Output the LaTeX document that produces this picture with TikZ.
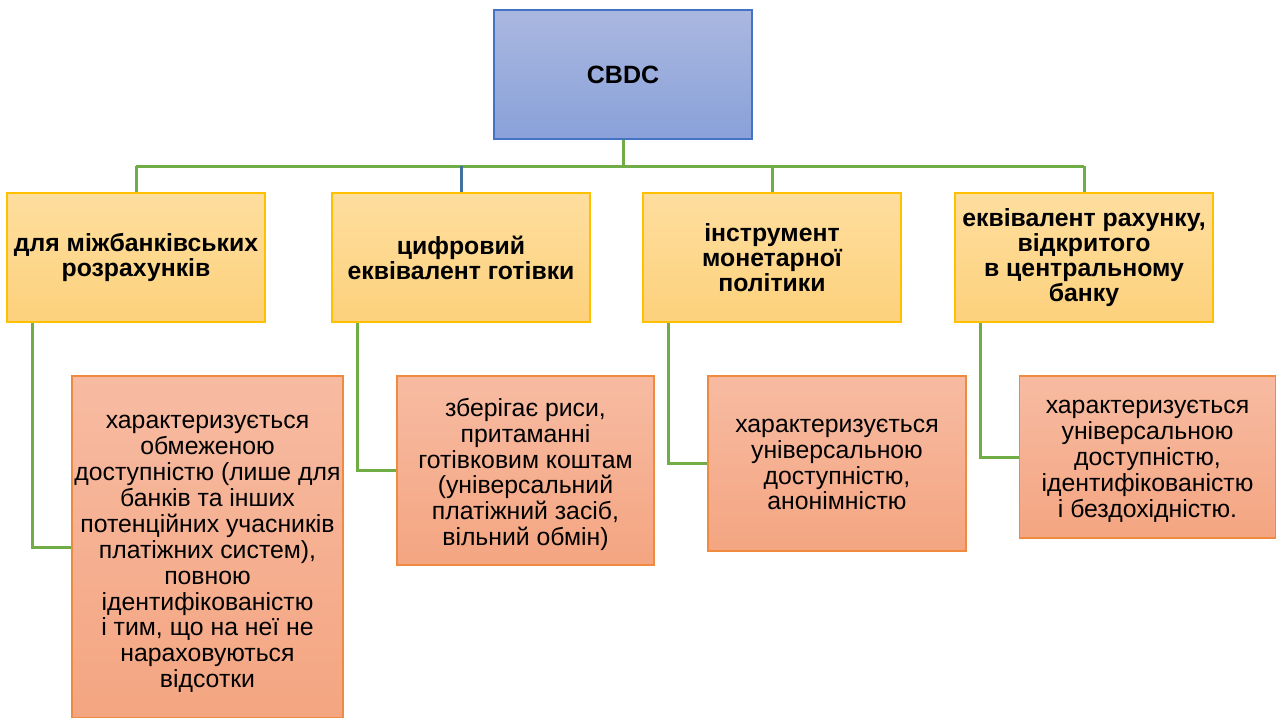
\documentclass[tikz,border=0pt]{standalone}
\usepackage{fontspec}
\setmainfont{Liberation Sans}
\definecolor{topblue}{HTML}{AAB8E0}
\definecolor{botblue}{HTML}{89A1D9}
\definecolor{bordblue}{HTML}{4472C4}
\definecolor{topyel}{HTML}{FEDE9E}
\definecolor{botyel}{HTML}{FDD17C}
\definecolor{bordyel}{HTML}{FFC000}
\definecolor{toporg}{HTML}{F7BBA2}
\definecolor{botorg}{HTML}{F4A581}
\definecolor{bordorg}{HTML}{F08A3E}
\definecolor{lgreen}{HTML}{70AD47}
\definecolor{lblue}{HTML}{41719C}
\begin{document}
\begin{tikzpicture}[x=1pt,y=-1pt,
  rootbox/.style={draw=bordblue,line width=1.5pt,top color=topblue,bottom color=botblue,
    minimum width=258pt,minimum height=129pt,inner sep=0pt,align=center,
    font=\fontsize{25}{25}\selectfont\bfseries},
  catbox/.style={draw=bordyel,line width=1.5pt,top color=topyel,bottom color=botyel,
    minimum width=258pt,minimum height=129pt,inner sep=0pt,align=center,
    font=\fontsize{24.8}{24.8}\selectfont\bfseries},
  descbox/.style={draw=bordorg,line width=1.5pt,top color=toporg,bottom color=botorg,
    inner sep=0pt},
  desctext/.style={inner sep=0pt,align=center,font=\fontsize{24.8}{25.9}\selectfont},
  link/.style={draw=lgreen,line width=3pt},
  ]
\useasboundingbox (0,0) rectangle (1276,717);
\node[rootbox] (cbdc) at (623,74.5) {CBDC};
\node[catbox] (a1) at (136,257.5) {для міжбанківських\\розрахунків};
\node[catbox] (a2) at (461,257.5) {цифровий\\еквівалент готівки};
\node[catbox] (a3) at (772,257.5) {інструмент\\монетарної\\політики};
\node[catbox] (a4) at (1084,257.5) {еквівалент рахунку,\\відкритого\\в центральному\\банку};
\node[descbox,minimum width=271pt,minimum height=342pt,
  label={[desctext,yshift=-7pt]center:характеризується\\обмеженою\\доступністю (лише для\\банків та інших\\потенційних учасників\\платіжних систем),\\повною\\ідентифікованістю\\і тим, що на неї не\\нараховуються\\відсотки}]
  (c1) at (207.5,547) {};
\node[descbox,minimum width=257pt,minimum height=189pt,
  label={[desctext,yshift=-4pt]center:зберігає риси,\\притаманні\\готівковим коштам\\(універсальний\\платіжний засіб,\\вільний обмін)}]
  (c2) at (525.5,470.5) {};
\node[descbox,minimum width=258pt,minimum height=175pt,
  label={[desctext,yshift=-1pt]center:характеризується\\універсальною\\доступністю,\\анонімністю}]
  (c3) at (837,463.5) {};
\node[descbox,minimum width=256pt,minimum height=162pt,
  label={[desctext,yshift=-4pt]center:характеризується\\універсальною\\доступністю,\\ідентифікованістю\\і бездохідністю.}]
  (c4) at (1147.5,457) {};
\coordinate (bus) at (623,166);
\coordinate (busL) at (136,166);
\coordinate (busR) at (1084,166);
\draw[link] (cbdc.south) -- (bus);
\draw[link] (busL) -- (busR);
\draw[link] (busL) -- (a1.north);
\draw[draw=lblue,line width=3pt] (a2.north |- bus) -- (a2.north);
\draw[link] (a3.north |- bus) -- (a3.north);
\draw[link] (busR) -- (a4.north);
\draw[link] ([xshift=26pt]a1.south west) |- (c1.west);
\draw[link] ([xshift=26pt]a2.south west) |- (c2.west);
\draw[link] ([xshift=26pt]a3.south west) |- (c3.west);
\draw[link] ([xshift=26pt]a4.south west) |- (c4.west);
\end{tikzpicture}
\end{document}
